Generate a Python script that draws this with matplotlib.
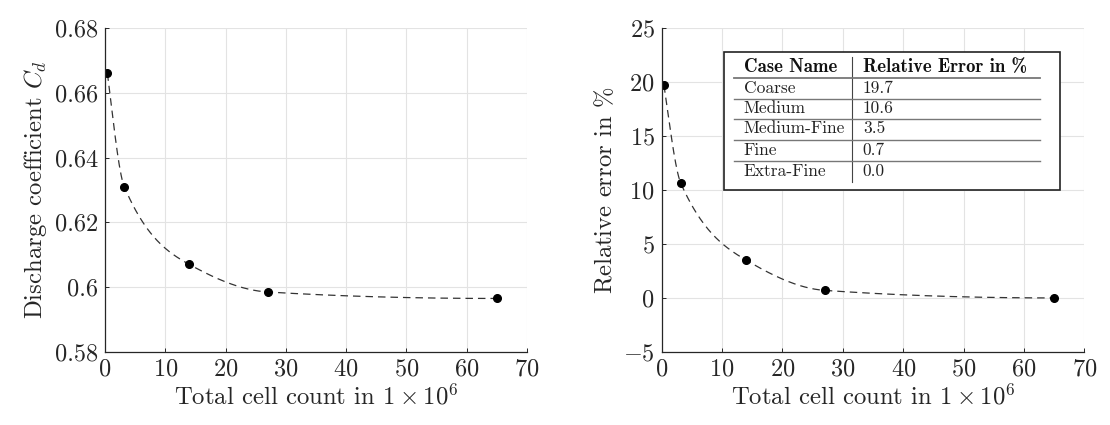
import numpy as np
import matplotlib
matplotlib.use("Agg")
import matplotlib.pyplot as plt
from matplotlib import patches

plt.rcParams['font.family'] = 'serif'
plt.rcParams['font.serif'] = ['cmr10']
plt.rcParams['mathtext.fontset'] = 'cm'
plt.rcParams['axes.formatter.use_mathtext'] = True
plt.rcParams['axes.unicode_minus'] = True

# data
cells = [0.4, 3.2, 14.0, 27.0, 65.0]          # total cell count in 1e6
cd = [0.666, 0.631, 0.607, 0.5985, 0.5965]     # discharge coefficient
rel_err = [19.7, 10.6, 3.5, 0.7, 0.0]          # relative error in %
case_names = ['Coarse', 'Medium', 'Medium-Fine', 'Fine', 'Extra-Fine']
err_labels = ['19.7', '10.6', '3.5', '0.7', '0.0']

x_ticks = [0, 10, 20, 30, 40, 50, 60, 70]
cd_ticks = [0.58, 0.60, 0.62, 0.64, 0.66, 0.68]
cd_ticklabels = ['0.58', '0.6', '0.62', '0.64', '0.66', '0.68']
err_ticks = [-5, 0, 5, 10, 15, 20, 25]


def pchip(x, y, xs):
    # monotone cubic hermite (Fritsch-Carlson) for the smooth dashed trend
    x = np.asarray(x, float)
    y = np.asarray(y, float)
    h = np.diff(x)
    d = np.diff(y) / h
    n = len(x)
    m = np.zeros(n)
    for k in range(1, n - 1):
        if d[k - 1] * d[k] > 0:
            w1 = 2 * h[k] + h[k - 1]
            w2 = h[k] + 2 * h[k - 1]
            m[k] = (w1 + w2) / (w1 / d[k - 1] + w2 / d[k])
    def end(h0, h1, d0, d1):
        s = ((2 * h0 + h1) * d0 - h0 * d1) / (h0 + h1)
        if np.sign(s) != np.sign(d0):
            s = 0.0
        elif np.sign(d0) != np.sign(d1) and abs(s) > abs(3 * d0):
            s = 3 * d0
        return s
    m[0] = end(h[0], h[1], d[0], d[1])
    m[-1] = end(h[-1], h[-2], d[-1], d[-2])
    idx = np.clip(np.searchsorted(x, xs) - 1, 0, n - 2)
    t = (xs - x[idx]) / h[idx]
    h00 = 2 * t**3 - 3 * t**2 + 1
    h10 = t**3 - 2 * t**2 + t
    h01 = -2 * t**3 + 3 * t**2
    h11 = t**3 - t**2
    return h00 * y[idx] + h10 * h[idx] * m[idx] + h01 * y[idx + 1] + h11 * h[idx] * m[idx + 1]


def style(ax):
    ax.grid(True, color='#e3e3e3', linewidth=0.8)
    ax.set_axisbelow(True)
    for s in ['top', 'right']:
        ax.spines[s].set_visible(False)
    for s in ['left', 'bottom']:
        ax.spines[s].set_color('#262626')
        ax.spines[s].set_linewidth(0.9)
    ax.tick_params(direction='in', length=3, width=0.7, colors='#262626',
                   labelsize=17.5, labelcolor='#262626', pad=5)
    ax.set_xlim(0, 70)
    ax.set_xticks(x_ticks)
    ax.set_xlabel(r'Total cell count in $1 \times 10^6$', fontsize=17.8,
                  color='#262626', labelpad=2)


fig = plt.figure(figsize=(11.1, 4.25), dpi=100)
ax1 = fig.add_axes([0.0946, 0.172, 0.380, 0.762])
ax2 = fig.add_axes([0.596, 0.172, 0.381, 0.762])

xs = np.linspace(cells[0], cells[-1], 400)

ax1.plot(xs, pchip(cells, cd, xs), '--', color='#333333', linewidth=0.9, dashes=(6, 4))
ax1.plot(cells, cd, 'o', color='black', markersize=5.5)
style(ax1)
ax1.set_ylim(0.58, 0.68)
ax1.set_yticks(cd_ticks)
ax1.set_yticklabels(cd_ticklabels)
ax1.set_ylabel(r'Discharge coefficient $C_d$', fontsize=17.8, color='#262626')

ax2.plot(xs, pchip(cells, rel_err, xs), '--', color='#333333', linewidth=0.9, dashes=(6, 4))
ax2.plot(cells, rel_err, 'o', color='black', markersize=5.5)
style(ax2)
ax2.set_ylim(-5, 25)
ax2.set_yticks(err_ticks)
ax2.set_ylabel(r'Relative error in $\%$', fontsize=17.8, color='#262626')

# table box
tr = ax2.transAxes
ax2.add_patch(patches.Rectangle((0.147, 0.50), 0.794, 0.426, transform=tr,
                                facecolor='white', edgecolor='#222222', linewidth=1.2, zorder=5))
ax2.plot([0.450, 0.450], [0.525, 0.910], transform=tr, color='#444444', linewidth=0.8, zorder=6)
rules = [0.846, 0.781, 0.719, 0.654, 0.590]
for i, yr in enumerate(rules):
    ax2.plot([0.171, 0.896], [yr, yr], transform=tr, color='#777777',
             linewidth=1.3 if i == 0 else 1.0, zorder=6)
ax2.text(0.194, 0.880, 'Case Name', transform=tr, fontsize=13.5,
         family='cmb10', va='center', color='#111111', zorder=7)
ax2.text(0.476, 0.880, 'Relative Error in %', transform=tr, fontsize=13.5,
         family='cmb10', va='center', color='#111111', zorder=7)
row_y = [0.815, 0.753, 0.691, 0.623, 0.559]
for name, val, yy in zip(case_names, err_labels, row_y):
    ax2.text(0.194, yy, name, transform=tr, fontsize=12.5, va='center', color='#222222', zorder=7)
    ax2.text(0.476, yy, val, transform=tr, fontsize=12.5, va='center', color='#222222', zorder=7)

fig.savefig('out.png', dpi=100)
